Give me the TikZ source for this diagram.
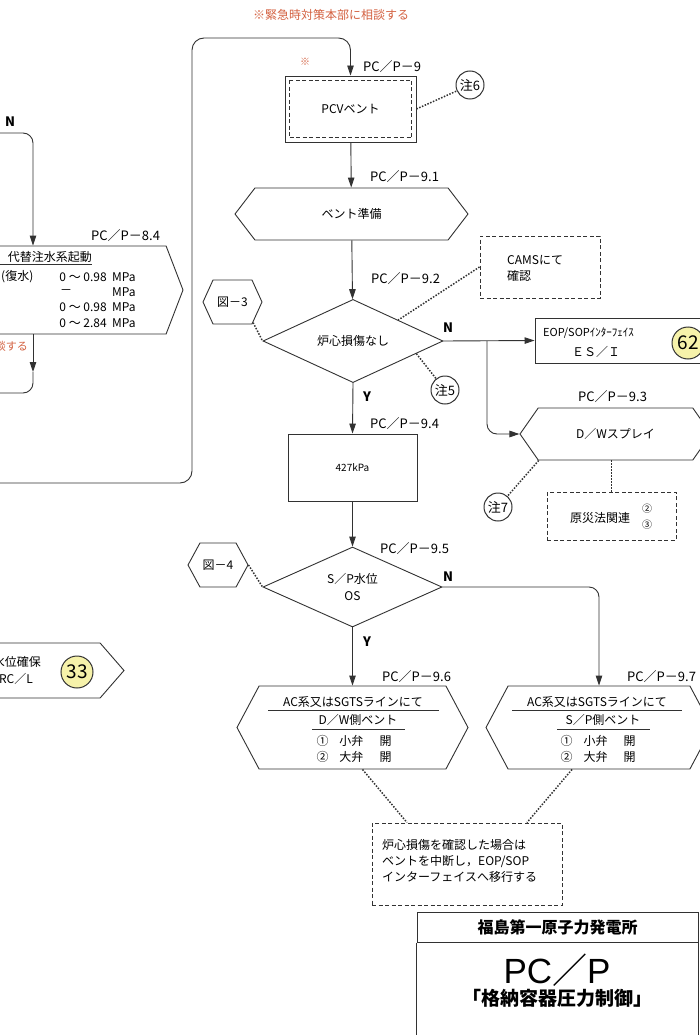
\documentclass[tikz,border=0pt]{standalone}
\usepackage{fontspec}
\setmainfont{Noto Sans CJK JP}
\newfontfamily\latinfont{Liberation Sans}
\definecolor{ink}{RGB}{50,50,50}
\definecolor{alert}{RGB}{212,98,66}
\definecolor{mark}{RGB}{246,242,170}
\tikzset{every picture/.style={/utils/exec={\fontsize{12}{14}\selectfont}}}
\usetikzlibrary{calc}
\usetikzlibrary{positioning}
\usetikzlibrary{arrows.meta}
\usetikzlibrary{shapes.geometric}
\usetikzlibrary{shapes.symbols}
\tikzset{
  flow/.style={draw=ink, line width=0.9pt},
  arr/.style={flow, -{Triangle[length=10pt,width=6.5pt]}},
  dotline/.style={draw=ink, line width=1.5pt, dash pattern=on 1.5pt off 1.5pt},
  dashbox/.style={draw=ink, line width=1pt, dash pattern=on 4pt off 2.5pt, rectangle, inner sep=0pt},
  stepbox/.style={flow, rectangle, inner sep=0pt},
  hexbox/.style={flow, signal, signal to=east and west, inner sep=0pt},
  decide/.style={flow, diamond, inner sep=0pt},
  steplabel/.style={anchor=west, inner sep=0pt, font=\fontsize{13}{13}\selectfont},
  yn/.style={inner sep=0pt, font=\bfseries\fontsize{13}{13}\selectfont},
  noteref/.style={flow, line width=1pt, circle, inner sep=0pt, minimum size=28pt, font=\fontsize{13}{13}\selectfont},
  pageref/.style={noteref, fill=mark, minimum size=32pt, font=\fontsize{19}{19}\selectfont},
}

\begin{document}
\begin{tikzpicture}[x=1pt, y=-1pt]
  \useasboundingbox (0,0) rectangle (700,1035);
  \clip (0,0) rectangle (700,1035);
  \fill[white] (0,0) rectangle (700,1035);

  \node[text=alert, font=\fontsize{12}{12}\selectfont] (hqnote) at (331,15) {※緊急時対策本部に相談する};

  % left column (continued from previous sheet)
  \coordinate (leftin) at (-5,133);
  \coordinate (leftout) at (-5,393);
  \coordinate (loopin) at (-5,483);
  \coordinate (altdrop) at (33,372);
  \node[yn] (nleft) at (10,122) {N};
  \node[hexbox, signal pointer angle=138, minimum width=300, minimum height=88] (alt) at (33,290) {};
  \node[steplabel] (altlabel) at (91,236) {PC／P－8.4};
  \node[anchor=east, inner sep=0pt] (alt1) at (92,257) {代替注水系起動};
  \draw[flow, line width=0.8pt] (0,264) -- (alt1.south east |- 0,264);
  \node[anchor=west, inner sep=0pt] (alt2) at (1,277) {(復水)};
  \foreach \row/\val in {277/0.98, 307/0.98, 323/2.84} {
    \node[anchor=east, inner sep=0pt] at (107,\row) {0 ～ \val};
    \node[anchor=west, inner sep=0pt] at (112,\row) {MPa};
  }
  \node[inner sep=0pt] (altdash) at (66,292) {－};
  \node[anchor=west, inner sep=0pt] (altunit) at (112,292) {MPa};
  \node[text=alert, anchor=east, inner sep=0pt, font=\fontsize{11}{11}\selectfont] (hqnote2) at (28,346) {相談する};
  \draw[arr, rounded corners=10pt] (leftin) -| (alt.north);
  \draw[arr] (alt.south) -- (altdrop);
  \draw[flow, rounded corners=10pt] (altdrop) |- (leftout);

  \node[hexbox, signal pointer angle=98, minimum width=274, minimum height=55] (level) at (-13,670.5) {};
  \node[anchor=east, inner sep=0pt] (level1) at (41,662) {水位確保};
  \node[anchor=east, inner sep=0pt] (level2) at (33,679) {RC／L};
  \node[pageref] (p33) at (77,672) {33};

  % PCV vent
  \node[text=alert, font=\fontsize{10}{10}\selectfont] (mark) at (305,62) {※};
  \node[stepbox, minimum width=131, minimum height=66] (pcv) at (350.5,109) {PCVベント};
  \draw[dashbox] ($(pcv.north west)+(4.5,4.5)$) rectangle ($(pcv.south east)+(-4.5,-4.5)$);
  \node[steplabel] (pcvlabel) at (363,67) {PC／P－9};
  \node[noteref] (n6) at (470,85) {注6};
  \draw[arr, rounded corners=12pt] (loopin) -| (192,38) -| (pcv.north);
  \draw[dotline] (pcv.east) -- (n6);

  \node[hexbox, signal pointer angle=105, minimum width=233, minimum height=52] (vprep) at (351.5,214) {ベント準備};
  \node[steplabel] (vpreplabel) at (370,177) {PC／P－9.1};
  \draw[arr] (pcv) -- (vprep);

  % core damage check
  \node[decide, minimum width=180, minimum height=82] (core) at (353,341) {炉心損傷なし};
  \node[steplabel] (corelabel) at (371,279) {PC／P－9.2};
  \node[dashbox, minimum width=120, minimum height=62] (cams) at (540,267) {};
  \node[anchor=west, align=left, inner sep=0pt, font=\fontsize{12}{16}\selectfont] (camstext) at (507,268) {CAMSにて\\確認};
  \node[hexbox, signal pointer angle=131, minimum width=59, minimum height=44] (fig3) at (232.5,302) {図－3};
  \node[noteref] (n5) at (445,390) {注5};
  \node[yn] (ncore) at (448,328) {N};
  \node[yn] (ycore) at (367,397) {Y};
  \draw[arr] (vprep) -- (core);
  \draw[dotline] (cams.west) -- (core.north east);
  \draw[dotline] (fig3.-45) -- (core.west);
  \draw[dotline] ($(core.east)!0.3!(core.south)$) -- (n5);

  \node[stepbox, minimum width=185, minimum height=45] (eop) at (627.5,340.5) {};
  \node[anchor=west, inner sep=0pt, font=\fontsize{11}{11}\selectfont] (eop1) at (543,333) {EOP/SOPｲﾝﾀｰﾌｪｲｽ};
  \node[inner sep=0pt] (eop2) at (596,352) {ＥＳ／Ｉ};
  \node[pageref] (p62) at (688,343) {62};
  \coordinate (fork) at (487,341);
  \draw[arr] (core.east) -- (eop.west);

  \node[hexbox, signal pointer angle=110, minimum width=191, minimum height=52] (dwspray) at (615.5,434) {D／Wスプレイ};
  \node[steplabel] (dwspraylabel) at (578,397) {PC／P－9.3};
  \draw[arr, rounded corners=10pt] (fork) |- (dwspray.west);
  \node[dashbox, minimum width=129, minimum height=48] (law) at (611.5,516) {};
  \node[inner sep=0pt] (lawtext) at (600,518) {原災法関連};
  \node[inner sep=0pt, font=\fontsize{10}{10}\selectfont] (law2) at (647,509) {②};
  \node[inner sep=0pt, font=\fontsize{10}{10}\selectfont] (law3) at (647,525) {③};
  \node[noteref] (n7) at (498,507) {注7};
  \draw[dotline] (law.north |- dwspray.south) -- (law.north);
  \draw[dotline] (dwspray.-161) -- (n7);

  % pressure and S/P level
  \node[stepbox, minimum width=129, minimum height=67, font=\fontsize{10}{12}\selectfont] (press) at (352.5,467.5) {427kPa};
  \node[steplabel] (presslabel) at (370,424) {PC／P－9.4};
  \draw[arr] (core.south) -- (press.north);

  \node[decide, minimum width=179, minimum height=80, align=center, font=\fontsize{12}{17}\selectfont] (pool) at (352.5,587) {S／P水位\\OS};
  \node[steplabel] (poollabel) at (380,549) {PC／P－9.5};
  \node[hexbox, signal pointer angle=123, minimum width=60, minimum height=44] (fig4) at (218,565) {図－4};
  \node[yn] (npool) at (448,577) {N};
  \node[yn] (ypool) at (367,642) {Y};
  \draw[arr] (press) -- (pool);
  \draw[dotline] (fig4.east) -- (pool.west);

  % vent lines
  \node[hexbox, signal pointer angle=124, minimum width=231, minimum height=83] (dwvent) at (352.5,727.5) {};
  \node[steplabel] (dwventlabel) at (382,677) {PC／P－9.6};
  \node[inner sep=0pt] (dwvent1) at (353,702) {AC系又はSGTSラインにて};
  \draw[flow, line width=0.8pt] (268,710) -- (439,710);
  \node[inner sep=0pt] (dwvent2) at (358,720) {D／W側ベント};
  \draw[flow, line width=0.8pt] (312,729) -- (405,729);
  \node[inner sep=0pt] (dwvent3) at (354,741) {①\hspace{11pt}小弁\hspace{16pt}開};
  \node[inner sep=0pt] (dwvent4) at (354,757) {②\hspace{11pt}大弁\hspace{16pt}開};
  \draw[arr] (pool.south) -- (dwvent.north);

  \node[hexbox, signal pointer angle=124, minimum width=226, minimum height=83] (spvent) at (599,727.5) {};
  \node[steplabel] (spventlabel) at (627,677) {PC／P－9.7};
  \node[inner sep=0pt] (spvent1) at (597,702) {AC系又はSGTSラインにて};
  \draw[flow, line width=0.8pt] (512,710) -- (682,710);
  \node[inner sep=0pt] (spvent2) at (603,720) {S／P側ベント};
  \draw[flow, line width=0.8pt] (557,729) -- (650,729);
  \node[inner sep=0pt] (spvent3) at (598,741) {①\hspace{11pt}小弁\hspace{16pt}開};
  \node[inner sep=0pt] (spvent4) at (598,757) {②\hspace{11pt}大弁\hspace{16pt}開};
  \draw[arr, rounded corners=10pt] (pool.east) -| (spvent.north);

  \node[dashbox, minimum width=190, minimum height=82] (memo) at (467,864) {};
  \node[anchor=west, align=left, inner sep=0pt, font=\fontsize{12}{16}\selectfont] (memotext) at (382,861) {炉心損傷を確認した場合は\\ベントを中断し，EOP/SOP\\インターフェイスへ移行する};
  \draw[dotline] ([xshift=10pt]dwvent.south) -- ([xshift=-60pt]memo.north);
  \draw[dotline] ([xshift=-27pt]spvent.south) -- ([xshift=60pt]memo.north);

  % title block
  \node[draw=ink, line width=1pt, minimum width=281, minimum height=30, font=\bfseries\fontsize{16}{16}\selectfont] (plant) at (557.5,927) {福島第一原子力発電所};
  \draw[draw=ink, line width=1pt] (plant.south west) -- ++(0,110) (plant.south east) -- ++(0,110);
  \node[font=\fontsize{35}{35}\selectfont] (code) at (557,970) {{\latinfont PC}／{\latinfont P}};
  \node[font=\bfseries\fontsize{19}{19}\selectfont] (title) at (557,998) {「格納容器圧力制御」};
\end{tikzpicture}
\end{document}
